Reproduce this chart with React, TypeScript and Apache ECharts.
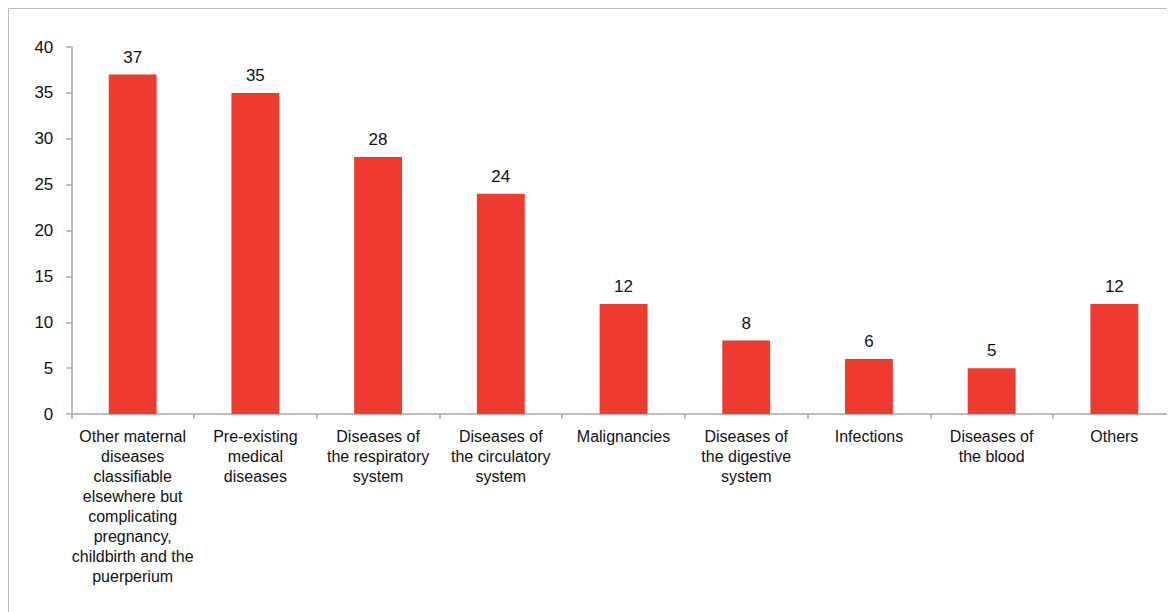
import React, { useEffect, useRef } from "react";
import * as echarts from "echarts";

const categories = [
  "Other maternal\ndiseases\nclassifiable\nelsewhere but\ncomplicating\npregnancy,\nchildbirth and the\npuerperium",
  "Pre-existing\nmedical\ndiseases",
  "Diseases of\nthe respiratory\nsystem",
  "Diseases of\nthe circulatory\nsystem",
  "Malignancies",
  "Diseases of\nthe digestive\nsystem",
  "Infections",
  "Diseases of\nthe blood",
  "Others",
];
const values = [37, 35, 28, 24, 12, 8, 6, 5, 12];
const yTicks = { min: 0, max: 40, interval: 5 };

const FONT = "Liberation Sans, Helvetica, Arial, sans-serif";

export default function App() {
  const ref = useRef<HTMLDivElement>(null);
  useEffect(() => {
    if (!ref.current) return;
    const chart = echarts.init(ref.current, undefined, { renderer: "svg" });
    chart.setOption({
      animation: false,
      backgroundColor: "#fff",
      grid: { left: 62.3, top: 38, right: 13.3, height: 367, containLabel: false },
      xAxis: {
        type: "category",
        data: categories,
        axisLine: { lineStyle: { color: "#a6a6a6", width: 1.5 } },
        axisTick: { show: true, length: 5, inside: false, lineStyle: { color: "#a6a6a6", width: 1.5 } },
        axisLabel: {
          interval: 0,
          margin: 12,
          color: "#111",
          fontSize: 16,
          lineHeight: 20,
          fontFamily: FONT,
        },
      },
      yAxis: {
        type: "value",
        min: yTicks.min,
        max: yTicks.max,
        interval: yTicks.interval,
        splitLine: { show: false },
        axisLine: { show: true, lineStyle: { color: "#a6a6a6", width: 1.5 } },
        axisTick: { show: true, length: 5, lineStyle: { color: "#a6a6a6", width: 1.5 } },
        axisLabel: { margin: 18, color: "#111", fontSize: 17, fontFamily: FONT },
      },
      series: [
        {
          type: "bar",
          data: values,
          barWidth: "39%",
          itemStyle: { color: "#EE3A2F" },
          label: {
            show: true,
            position: "top",
            distance: 9,
            color: "#111",
            fontSize: 17,
            fontFamily: FONT,
          },
        },
      ],
    });
    return () => chart.dispose();
  }, []);
  return (
    <div
      style={{
        width: 1167,
        height: 604,
        overflow: "hidden",
        borderTop: "1.5px solid #bbb",
        borderLeft: "1.5px solid #bbb",
        boxSizing: "border-box",
      }}
    >
      <div ref={ref} style={{ width: 1180, height: 603 }} />
    </div>
  );
}
